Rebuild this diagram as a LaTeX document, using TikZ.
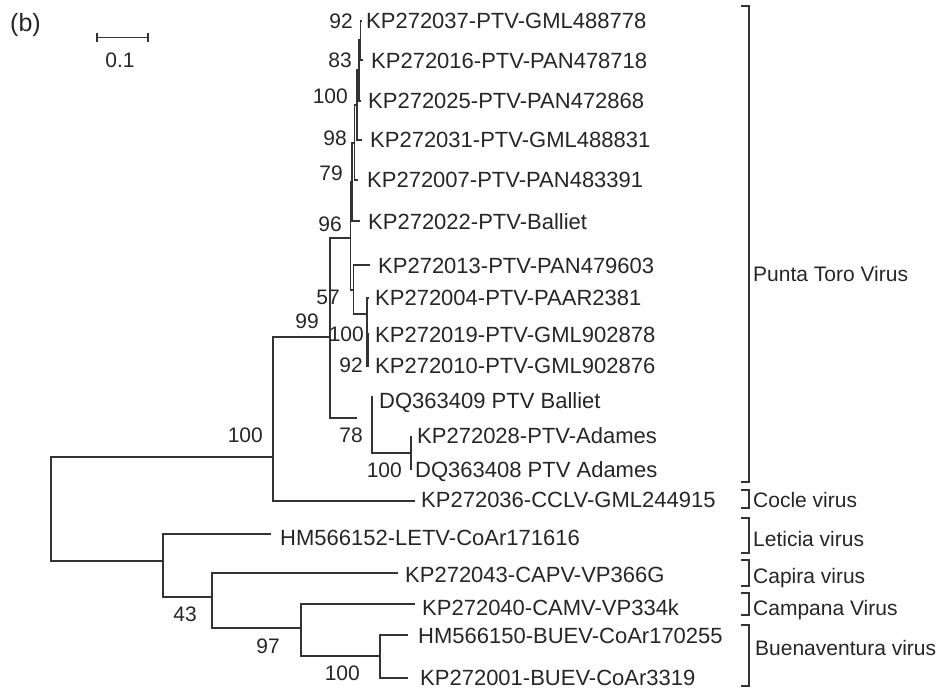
\documentclass[tikz,border=0pt]{standalone}
\usepackage{fontspec}
\setmainfont{Liberation Sans}
\begin{document}
\begin{tikzpicture}[x=1pt,y=-1pt,
  br/.style={line width=1.1pt,draw=black!80},
  lab/.style={font=\fontsize{22}{26}\selectfont,text=black!85,inner sep=0pt,anchor=base west},
  bs/.style={font=\fontsize{21}{25}\selectfont,text=black!85,inner sep=0pt,anchor=east},
  grp/.style={font=\fontsize{21}{25}\selectfont,text=black!85,inner sep=0pt,anchor=base west}]
\useasboundingbox (0,0) rectangle (939,688);

% tips
\coordinate (t1) at (362,21);
\coordinate (t2) at (363,60);
\coordinate (t3) at (361,101);
\coordinate (t4) at (362,140);
\coordinate (t5) at (358,180);
\coordinate (t6) at (360,221);
\coordinate (t7) at (370,265);
\coordinate (t8) at (369,298);
\coordinate (t9) at (369,334);
\coordinate (t10) at (369,366);
\coordinate (t11) at (372,396);
\coordinate (t12) at (411,436);
\coordinate (t13) at (411,470);
\coordinate (t14) at (415,501);
\coordinate (t15) at (271,534);
\coordinate (t16) at (398,573);
\coordinate (t17) at (415,604);
\coordinate (t18) at (408,635);
\coordinate (t19) at (408,678);
% internal nodes
\coordinate (n12) at (360.5,40);
\coordinate (n123) at (359,70);
\coordinate (n1234) at (357,105);
\coordinate (n12345) at (354.5,143);
\coordinate (nP) at (352,182);
\coordinate (nR) at (350.5,238);
\coordinate (nQ) at (353.5,290);
\coordinate (nQ2) at (367,314);
\coordinate (nS) at (330,337);
\coordinate (nTg) at (357,418);
\coordinate (nT2) at (411,453);
\coordinate (nU) at (273,457);
\coordinate (nRoot) at (51,509);
\coordinate (nV) at (163,561);
\coordinate (nW) at (212,597);
\coordinate (nX) at (301,628);
\coordinate (nY) at (380,656);

% branches
\draw[br] (n12) |- (t1);  \draw[br] (n12) |- (t2);
\draw[br] (n123) |- (n12); \draw[br] (n123) |- (t3);
\draw[br] (n1234) |- (n123); \draw[br] (n1234) |- (t4);
\draw[br] (n12345) |- (n1234); \draw[br] (n12345) |- (t5);
\draw[br] (nP) |- (n12345); \draw[br] (nP) |- (t6);
\draw[br] (nR) |- (nP); \draw[br] (nR) |- (nQ);
\draw[br] (nQ) |- (t7); \draw[br] (nQ) |- (nQ2);
\draw[br] (nQ2) |- (t8); \draw[br] (nQ2) |- (t9); \draw[br] (nQ2) |- (t10);
\draw[br,line width=2.2pt] ([xshift=0.6pt]nQ2 |- t9) -- ([xshift=0.6pt]nQ2 |- t10);
\draw[br] (nS) |- (nR); \draw[br] (nS) |- (nTg);
\draw[br] (t11) |- (nT2); \draw[br] (nT2) |- (t12); \draw[br] (nT2) |- (t13);
\draw[br] (nU) |- (nS); \draw[br] (nU) |- (t14);
\draw[br] (nRoot) |- (nU); \draw[br] (nRoot) |- (nV);
\draw[br] (nV) |- (t15); \draw[br] (nV) |- (nW);
\draw[br] (nW) |- (t16); \draw[br] (nW) |- (nX);
\draw[br] (nX) |- (t17); \draw[br] (nX) |- (nY);
\draw[br] (nY) |- (t18); \draw[br] (nY) |- (t19);

% tip labels
\node[lab] (L1) at (366,28.5) {KP272037-PTV-GML488778};
\node[lab] (L2) at (371,68) {KP272016-PTV-PAN478718};
\node[lab] (L3) at (368,108) {KP272025-PTV-PAN472868};
\node[lab] (L4) at (370,147) {KP272031-PTV-GML488831};
\node[lab] (L5) at (367,187) {KP272007-PTV-PAN483391};
\node[lab] (L6) at (368,229) {KP272022-PTV-Balliet};
\node[lab] (L7) at (378,273) {KP272013-PTV-PAN479603};
\node[lab] (L8) at (375,305) {KP272004-PTV-PAAR2381};
\node[lab] (L9) at (375,342) {KP272019-PTV-GML902878};
\node[lab] (L10) at (375,373) {KP272010-PTV-GML902876};
\node[lab] (L11) at (379,408) {DQ363409 PTV Balliet};
\node[lab] (L12) at (417,443) {KP272028-PTV-Adames};
\node[lab] (L13) at (415,477) {DQ363408 PTV Adames};
\node[lab] (L14) at (421,507) {KP272036-CCLV-GML244915};
\node[lab] (L15) at (280,545) {HM566152-LETV-CoAr171616};
\node[lab] (L16) at (405,582) {KP272043-CAPV-VP366G};
\node[lab] (L17) at (422,615) {KP272040-CAMV-VP334k};
\node[lab] (L18) at (418,643) {HM566150-BUEV-CoAr170255};
\node[lab] (L19) at (420,685) {KP272001-BUEV-CoAr3319};

% bootstrap values
\node[bs] (b1) at (353,21) {92};
\node[bs] (b2) at (352,60) {83};
\node[bs] (b3) at (348,96) {100};
\node[bs] (b4) at (347,138) {98};
\node[bs] (b5) at (343,173) {79};
\node[bs] (b6) at (342,224) {96};
\node[bs] (b7) at (340,297) {57};
\node[bs] (b8) at (319,321) {99};
\node[bs] (b9) at (364,334) {100};
\node[bs] (b10) at (363,365) {92};
\node[bs] (b11) at (363,435) {78};
\node[bs] (b12) at (402,470) {100};
\node[bs] (b13) at (263,435) {100};
\node[bs] (b14) at (197,614) {43};
\node[bs] (b15) at (280,646) {97};
\node[bs] (b16) at (360,673) {100};

% clade brackets
\coordinate (pa) at (741,6);   \coordinate (pb) at (741,482);
\coordinate (ca) at (741,490); \coordinate (cb) at (741,508);
\coordinate (la) at (741,518); \coordinate (lb) at (741,553);
\coordinate (ka) at (741,560); \coordinate (kb) at (741,586);
\coordinate (ma) at (741,593); \coordinate (mb) at (741,615);
\coordinate (ea) at (741,625); \coordinate (eb) at (741,686);
\foreach \a/\b in {pa/pb,ca/cb,la/lb,ka/kb,ma/mb,ea/eb}
  \draw[br] (\a) -- ([xshift=8pt]\a) -- ([xshift=8pt]\b) -- (\b);
\node[grp] (g1) at (753,281) {Punta Toro Virus};
\node[grp] (g2) at (753,507) {Cocle virus};
\node[grp] (g3) at (753,546) {Leticia virus};
\node[grp] (g4) at (753,583) {Capira virus};
\node[grp] (g5) at (753,615) {Campana Virus};
\node[grp] (g6) at (755,655) {Buenaventura virus};

% panel label and scale bar
\node[font=\fontsize{25}{29}\selectfont,text=black!85,inner sep=0pt] (pl) at (25.5,25) {(b)};
\coordinate (s1) at (97,37.7);
\coordinate (s2) at (148,37.7);
\draw[br] (s1) -- (s2);
\draw[br] ([yshift=4.5pt]s1) -- ([yshift=-4.5pt]s1);
\draw[br] ([yshift=4.5pt]s2) -- ([yshift=-4.5pt]s2);
\node[font=\fontsize{21}{25}\selectfont,text=black!85,inner sep=0pt] (sl) at (120,60) {0.1};
\end{tikzpicture}
\end{document}
